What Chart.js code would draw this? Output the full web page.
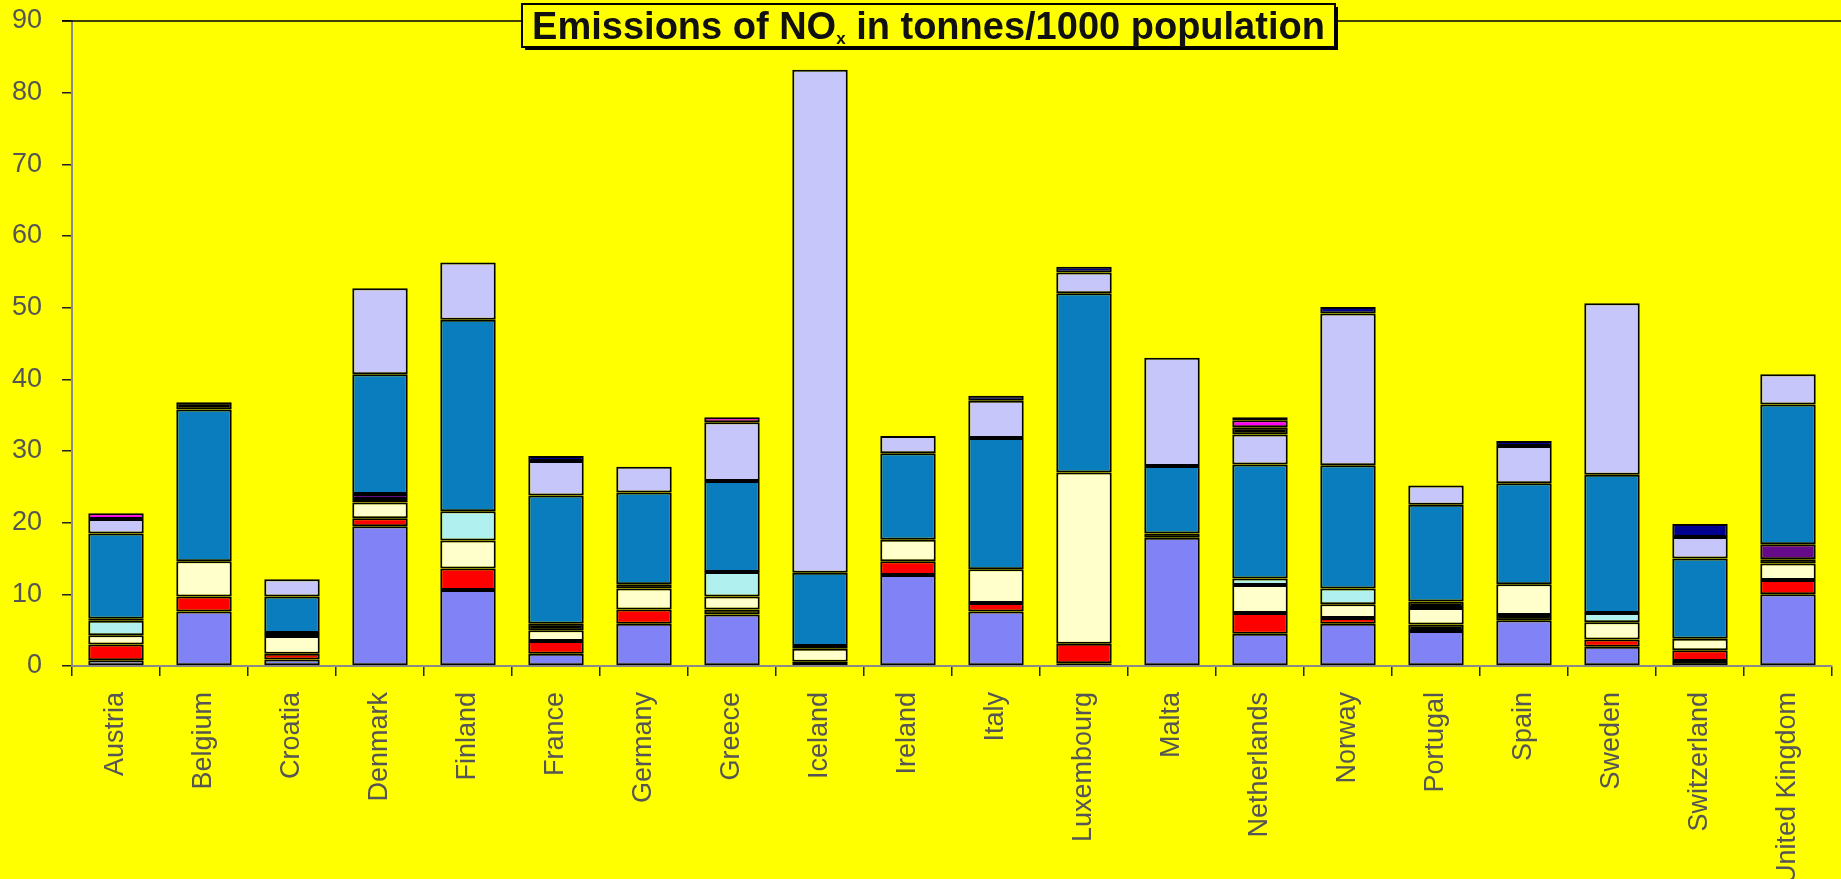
<!DOCTYPE html>
<html>
<head>
<meta charset="utf-8">
<script src="https://cdn.jsdelivr.net/npm/chart.js@4"></script>
<style>
  html, body { margin: 0; padding: 0; background: #ffff00; overflow: hidden; }
  canvas { display: block; }
</style>
</head>
<body>
<canvas id="chart-nox" width="1841" height="879"></canvas>
<script>
// NOx emissions per 1000 population, stacked by source
const countries = [
  'Austria', 'Belgium', 'Croatia', 'Denmark', 'Finland', 'France', 'Germany',
  'Greece', 'Iceland', 'Ireland', 'Italy', 'Luxembourg', 'Malta', 'Netherlands',
  'Norway', 'Portugal', 'Spain', 'Sweden', 'Switzerland', 'United Kingdom'
];

const yTicks = [0, 10, 20, 30, 40, 50, 60, 70, 80, 90];

// segments from bottom to top
const periwinkle = [0.8, 7.6, 0.9, 19.5, 10.6, 1.7, 5.9, 7.2, 0, 12.7, 7.6, 0.4, 17.9, 4.5, 5.9, 4.9, 6.4, 2.7, 0, 10.0];
const blackLow   = [0, 0, 0, 0, 0, 0, 0, 0.7, 0.6, 0, 0, 0, 0, 0, 0, 0.9, 0.7, 0, 0.7, 0];
const red        = [2.2, 2.1, 0.8, 1.1, 3.0, 1.8, 2.0, 0, 0, 1.9, 1.2, 2.7, 0, 2.9, 0.8, 0, 0, 1.0, 1.5, 2.0];
const ivory      = [1.3, 4.9, 2.5, 2.2, 3.9, 1.5, 2.9, 1.8, 1.8, 3.0, 4.7, 23.9, 0, 3.9, 1.9, 2.3, 4.3, 2.4, 1.6, 2.3];
const cyan       = [2.0, 0, 0, 0, 4.1, 0, 0, 3.4, 0, 0, 0, 0, 0, 0.9, 2.2, 0, 0, 1.3, 0, 0];
const blackMid   = [0.3, 0, 0.4, 0.5, 0, 0.9, 0.6, 0, 0.4, 0, 0, 0, 0.6, 0, 0, 0.9, 0, 0, 0, 0.6];
const purple     = [0, 0, 0, 0.7, 0, 0, 0, 0, 0, 0, 0, 0, 0, 0, 0, 0, 0, 0, 0, 2.1];
const teal       = [11.9, 21.2, 5.1, 16.7, 26.7, 17.9, 12.8, 12.7, 10.2, 12.1, 18.3, 25.0, 9.4, 15.9, 17.2, 13.5, 14.1, 19.3, 11.2, 19.5];
const iceBlue    = [2.0, 0, 2.4, 12.0, 8.0, 4.8, 3.6, 8.2, 70.2, 2.4, 5.2, 2.9, 15.1, 4.2, 21.2, 2.7, 5.2, 23.9, 3.0, 4.2];
const blackHigh  = [0, 1.0, 0, 0, 0, 0, 0, 0, 0, 0, 0, 0, 0, 1.0, 0, 0, 0, 0, 0, 0];
const magenta    = [0.8, 0, 0, 0, 0, 0, 0, 0.7, 0, 0, 0, 0, 0, 1.0, 0, 0, 0, 0, 0, 0];
const navy       = [0, 0, 0, 0, 0, 0.7, 0, 0, 0, 0, 0.7, 0.8, 0, 0.4, 0.9, 0, 0.7, 0, 1.8, 0];

const series = [
  ['periwinkle', periwinkle, '#8282f7'],
  ['black (low)', blackLow, '#000000'],
  ['red', red, '#ff0000'],
  ['ivory', ivory, '#ffffcc'],
  ['cyan', cyan, '#b0f0ee'],
  ['black (mid)', blackMid, '#000000'],
  ['purple', purple, '#650a88'],
  ['teal', teal, '#0a7dbe'],
  ['ice blue', iceBlue, '#c6c6fa'],
  ['black (high)', blackHigh, '#000000'],
  ['magenta', magenta, '#ff00ff'],
  ['navy', navy, '#000090']
];

const datasets = series.map(s => ({
  label: s[0],
  data: s[1].map(v => v === 0 ? null : v),
  backgroundColor: s[2],
  borderColor: '#000000',
  borderWidth: 2,
  borderSkipped: false,
  categoryPercentage: 1,
  barPercentage: 0.63
}));

// top frame line and the boxed title
const titleBox = {
  id: 'titleBox',
  afterDraw(chart) {
    const c = chart.ctx;
    const area = chart.chartArea;
    c.save();
    c.strokeStyle = '#000';
    c.lineWidth = 1.5;
    c.beginPath();
    c.moveTo(area.left - 10, area.top);
    c.lineTo(chart.width, area.top);
    c.stroke();

    const x0 = 522, y0 = 4, w = 813, h = 43;
    c.fillStyle = '#000';
    c.fillRect(x0 + 3, y0 + 3, w, h);
    c.fillStyle = '#ffff00';
    c.fillRect(x0, y0, w, h);
    c.lineWidth = 2;
    c.strokeRect(x0, y0, w, h);

    const big = 'bold 38px "Liberation Sans", Arial, sans-serif';
    const small = 'bold 17px "Liberation Sans", Arial, sans-serif';
    const p1 = 'Emissions of NO', p2 = 'x', p3 = ' in tonnes/1000 population';
    c.font = big;
    const w1 = c.measureText(p1).width, w3 = c.measureText(p3).width;
    c.font = small;
    const w2 = c.measureText(p2).width;
    let x = x0 + w / 2 - (w1 + w2 + w3) / 2;
    const base = y0 + 35;
    c.fillStyle = '#111';
    c.textBaseline = 'alphabetic';
    c.font = big;
    c.fillText(p1, x, base);
    x += w1;
    c.font = small;
    c.fillText(p2, x, base + 5);
    x += w2;
    c.font = big;
    c.fillText(p3, x, base);
    c.restore();
  }
};

const config = {
  type: 'bar',
  data: { labels: countries, datasets: datasets },
  options: {
    responsive: false,
    animation: false,
    layout: { padding: { top: 21, right: 9, left: 0, bottom: 0 } },
    plugins: {
      legend: { display: false },
      title: { display: false },
      tooltip: { enabled: false }
    },
    scales: {
      x: {
        stacked: true,
        afterFit: scale => { scale.height = 213; },
        border: { color: '#8a8a8a', width: 2 },
        grid: { drawOnChartArea: false, color: '#222', tickLength: 10, lineWidth: 1.5 },
        ticks: {
          autoSkip: false,
          minRotation: 90,
          maxRotation: 90,
          padding: 16,
          color: '#555',
          font: { family: '"Liberation Sans", Arial, sans-serif', size: 27 }
        }
      },
      y: {
        stacked: true,
        min: 0,
        max: 90,
        afterFit: scale => { scale.width = 72; },
        afterBuildTicks: scale => { scale.ticks = yTicks.map(v => ({ value: v })); },
        border: { color: '#8a8a8a', width: 2 },
        grid: { drawOnChartArea: false, color: '#222', tickLength: 10, lineWidth: 1.5 },
        ticks: {
          padding: 20,
          color: '#555',
          font: { family: '"Liberation Sans", Arial, sans-serif', size: 27, lineHeight: 0.05 }
        }
      }
    }
  },
  plugins: [titleBox]
};

const noxChart = new Chart(document.getElementById('chart-nox'), config);
</script>
</body>
</html>
